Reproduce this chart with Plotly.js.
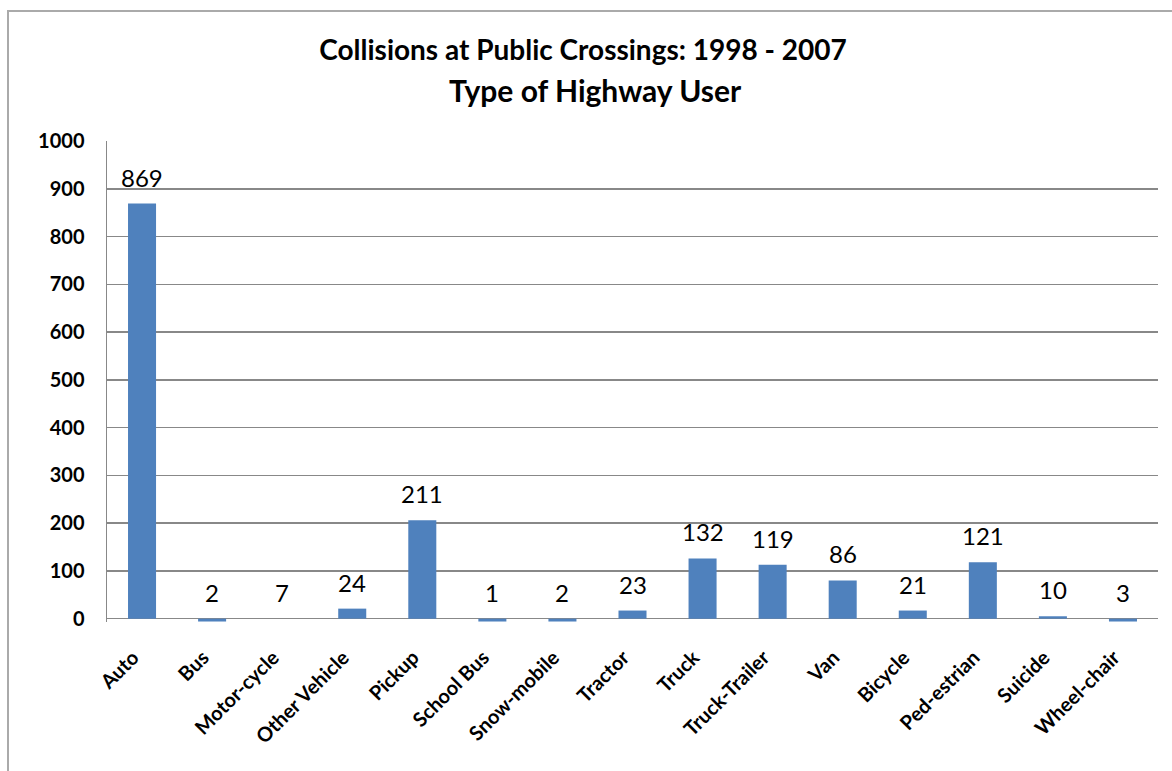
<!DOCTYPE html>
<html>
<head>
<meta charset="utf-8">
<script src="https://cdn.plot.ly/plotly-3.0.1.min.js"></script>
<style>
  html, body { margin: 0; padding: 0; background: #fff; }
  #chart { width: 1172px; height: 771px; }
  #frame { position: absolute; left: 7px; top: 10px; width: 1165px; height: 761px;
           border-left: 2px solid #aaaaaa; border-top: 2px solid #aaaaaa; pointer-events: none; }
</style>
</head>
<body>
<div id="chart"></div>
<div id="frame"></div>
<script>
// Categories (highway user type)
const categories = ["Auto", "Bus", "Motor-cycle", "Other Vehicle", "Pickup", "School Bus",
  "Snow-mobile", "Tractor", "Truck", "Truck-Trailer", "Van", "Bicycle", "Ped-estrian",
  "Suicide", "Wheel-chair"];
// Data labels printed above each bar
const labelValues = [869, 2, 7, 24, 211, 1, 2, 23, 132, 119, 86, 21, 121, 10, 3];
// Bar heights as drawn in the picture
const barHeights = [869, -6, 0, 21, 206, -6, -6, 17, 126, 113, 80, 17, 118, 5, -6];
// Y axis ticks
const yTicks = [0, 100, 200, 300, 400, 500, 600, 700, 800, 900, 1000];
// Titles
const titleLine1 = "Collisions at Public Crossings: 1998 - 2007";
const titleLine2 = "Type of Highway User";

const FONT = "Lato, 'Open Sans', sans-serif";

const trace = {
  type: "bar",
  x: categories,
  y: barHeights,
  marker: { color: "#4f81bd" },
  width: 0.4,
  hoverinfo: "x+y"
};

const annotations = categories.map((c, i) => ({
  x: c,
  y: Math.max(barHeights[i], 0),
  xref: "x", yref: "y",
  text: String(labelValues[i]),
  showarrow: false,
  yanchor: "bottom",
  yshift: 10,
  font: { family: FONT, size: 24, color: "#000" }
}));

annotations.push({
  xref: "paper", yref: "paper",
  x: (595 - 107) / 1051, y: (622 - 90) / 481,
  xanchor: "center", yanchor: "middle",
  text: "<b>" + titleLine2 + "</b>",
  showarrow: false,
  font: { family: FONT, size: 30, color: "#000" }
});

const layout = {
  width: 1172, height: 771,
  paper_bgcolor: "#fff", plot_bgcolor: "#fff",
  margin: { l: 107, r: 14, t: 141, b: 149 },
  title: {
    text: "<b>" + titleLine1 + "</b>",
    font: { family: FONT, size: 28, color: "#000" },
    x: 583 / 1172, xref: "container", xanchor: "center",
    y: 1 - 50 / 771, yref: "container", yanchor: "middle"
  },
  showlegend: false,
  bargap: 0.6,
  xaxis: {
    type: "category",
    tickangle: -45,
    tickfont: { family: FONT, size: 20, color: "#000", weight: "bold" },
    ticks: "outside", ticklen: 15, tickcolor: "rgba(0,0,0,0)",
    ticklabelshift: -9,
    showgrid: false, showline: false, zeroline: false,
    fixedrange: true
  },
  yaxis: {
    range: [-7, 1000],
    tickvals: yTicks,
    ticktext: yTicks.map(String),
    tickfont: { family: FONT, size: 20, color: "#000", weight: "bold" },
    ticks: "outside", ticklen: 17, tickcolor: "rgba(0,0,0,0)",
    showgrid: true, gridcolor: "#888888", gridwidth: 1.5,
    zeroline: true, zerolinecolor: "#888888", zerolinewidth: 1.5,
    showline: true, linecolor: "#888888", linewidth: 1.5,
    automargin: false,
    fixedrange: true
  },
  annotations: annotations
};

Plotly.newPlot("chart", [trace], layout, { displayModeBar: false, staticPlot: true });
</script>
</body>
</html>
